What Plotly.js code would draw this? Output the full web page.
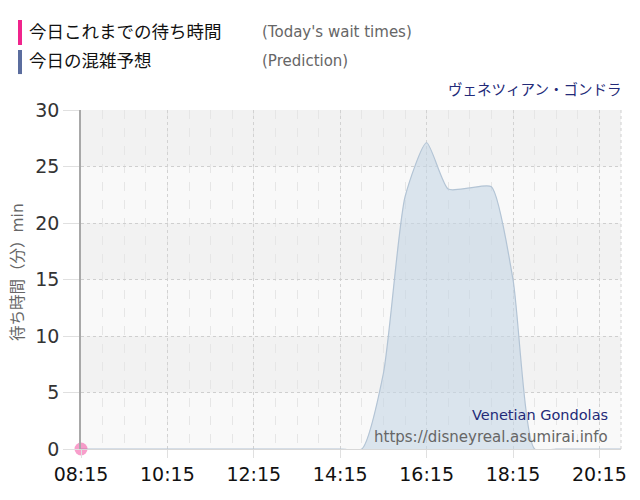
<!DOCTYPE html>
<html>
<head>
<meta charset="utf-8">
<script src="https://cdn.plot.ly/plotly-3.0.1.min.js"></script>
<style>
  html, body { margin: 0; padding: 0; background: #fff; }
</style>
</head>
<body>
<div id="waitplot" style="width:640px;height:500px;"></div>
<script>
// half-hour slots for the day
const slotTimes = [
  '08:15', '08:45', '09:15', '09:45', '10:15', '10:45', '11:15', '11:45',
  '12:15', '12:45', '13:15', '13:45', '14:15', '14:45', '15:15', '15:45',
  '16:15', '16:45', '17:15', '17:45', '18:15', '18:45', '19:15', '19:45',
  '20:15', '20:45'
];
// predicted wait (min)
const predictWait = [
  0, 0, 0, 0, 0, 0, 0, 0,
  0, 0, 0, 0, 0, 0, 6.7, 22.3,
  27.1, 23.0, 23.1, 23.2, 15.0, 0, 0, 0,
  0, 0
];
// today's actual wait so far
const todayTimes = ['08:15'];
const todayWait = [0];

const xTickLabels = ['08:15', '10:15', '12:15', '14:15', '16:15', '18:15', '20:15'];
const yTicks = [0, 5, 10, 15, 20, 25, 30];

const DAY = '2024-01-01 ';
const toDate = t => DAY + t + ':00';

const JP = '"DejaVu Sans", "Noto Sans CJK JP", sans-serif';

const predictTrace = {
  x: slotTimes.map(toDate),
  y: predictWait,
  type: 'scatter',
  mode: 'lines',
  fill: 'tozeroy',
  fillcolor: 'rgba(196,214,229,0.6)',
  line: { color: '#b3c4d5', width: 1.2, shape: 'spline', smoothing: 0.6 },
  hoverinfo: 'x+y',
};

const todayTrace = {
  x: todayTimes.map(toDate),
  y: todayWait,
  type: 'scatter',
  mode: 'markers',
  marker: { size: 13, color: 'rgba(240,40,140,0.45)' },
  cliponaxis: false,
  hoverinfo: 'x+y',
};

// alternate horizontal bands
const bandShapes = [];
for (let i = 0; i < yTicks.length - 1; i++) {
  if (i % 2 === 1) {
    bandShapes.push({
      type: 'rect', xref: 'paper', yref: 'y', layer: 'below',
      x0: 0, x1: 1, y0: yTicks[i], y1: yTicks[i + 1],
      fillcolor: '#f2f2f2', line: { width: 0 },
    });
  }
}

const legendShapes = [
  { type: 'rect', xref: 'paper', yref: 'paper', x0: -0.1167, x1: -0.1093, y0: 1.1917, y1: 1.2655,
    fillcolor: '#f0248c', line: { width: 0 } },
  { type: 'rect', xref: 'paper', yref: 'paper', x0: -0.1167, x1: -0.1093, y0: 1.106, y1: 1.177,
    fillcolor: '#5b6d9e', line: { width: 0 } },
  // right border of plot
  { type: 'line', xref: 'paper', yref: 'paper', x0: 1, x1: 1, y0: 0, y1: 1,
    line: { color: '#d0d0d0', width: 1, dash: 'dot' } },
];

const annots = [
  { text: '今日これまでの待ち時間', x: -0.1, y: 1.230, font: { size: 17.5, color: '#111', family: JP } },
  { text: "(Today's wait times)", x: 0.3315, y: 1.230, font: { size: 15, color: '#666', family: JP } },
  { text: '今日の混雑予想', x: -0.1, y: 1.1445, font: { size: 17.5, color: '#111', family: JP } },
  { text: '(Prediction)', x: 0.3315, y: 1.1445, font: { size: 15, color: '#666', family: JP } },
  { text: 'ヴェネツィアン・ゴンドラ', x: 1.003, y: 1.059, xanchor: 'right',
    font: { size: 14.5, color: '#232a78', family: JP } },
  { text: 'Venetian Gondolas', x: 0.98, y: 0.100, xanchor: 'right',
    font: { size: 14.5, color: '#232a78', family: JP } },
  { text: 'https://disneyreal.asumirai.info', x: 0.98, y: 0.035, xanchor: 'right',
    font: { size: 15, color: '#666', family: JP } },
  { text: '待ち時間（分）min', x: -0.1167, y: 0.522, textangle: -90, xanchor: 'center',
    font: { size: 15.5, color: '#666', family: JP } },
].map(a => Object.assign({ xref: 'paper', yref: 'paper', showarrow: false, xanchor: 'left', yanchor: 'middle' }, a));

const layout = {
  width: 640,
  height: 500,
  margin: { l: 81, r: 19, t: 110, b: 51 },
  paper_bgcolor: '#ffffff',
  plot_bgcolor: '#f9f9f9',
  showlegend: false,
  font: { family: JP },
  xaxis: {
    type: 'date',
    range: [toDate('08:15'), toDate('20:45')],
    tickmode: 'array',
    tickvals: xTickLabels.map(toDate),
    ticktext: xTickLabels,
    tickfont: { size: 19, color: '#111' },
    ticks: 'outside', ticklen: 8, tickcolor: '#e0e0e0',
    showgrid: true, gridcolor: '#d2d2d2', griddash: 'dot', gridwidth: 1,
    minor: { dtick: 1800000, tick0: toDate('08:15'), showgrid: true, gridcolor: '#e6e6e6', griddash: 'dash', gridwidth: 1 },
    showline: true, linecolor: '#d8d8d8', linewidth: 1,
    zeroline: false,
    fixedrange: true,
  },
  yaxis: {
    range: [0, 30],
    tickvals: yTicks,
    tickfont: { size: 19, color: '#333' },
    ticks: 'outside', ticklen: 16, tickcolor: '#e0e0e0',
    showgrid: true, gridcolor: '#cfcfcf', griddash: 'dot', gridwidth: 1,
    showline: true, linecolor: '#a8a8a8', linewidth: 1.5,
    zeroline: false,
    fixedrange: true,
  },
  shapes: bandShapes.concat(legendShapes),
  annotations: annots,
  hovermode: 'closest',
};

Plotly.newPlot('waitplot', [predictTrace, todayTrace], layout, { displayModeBar: false });
</script>
</body>
</html>
